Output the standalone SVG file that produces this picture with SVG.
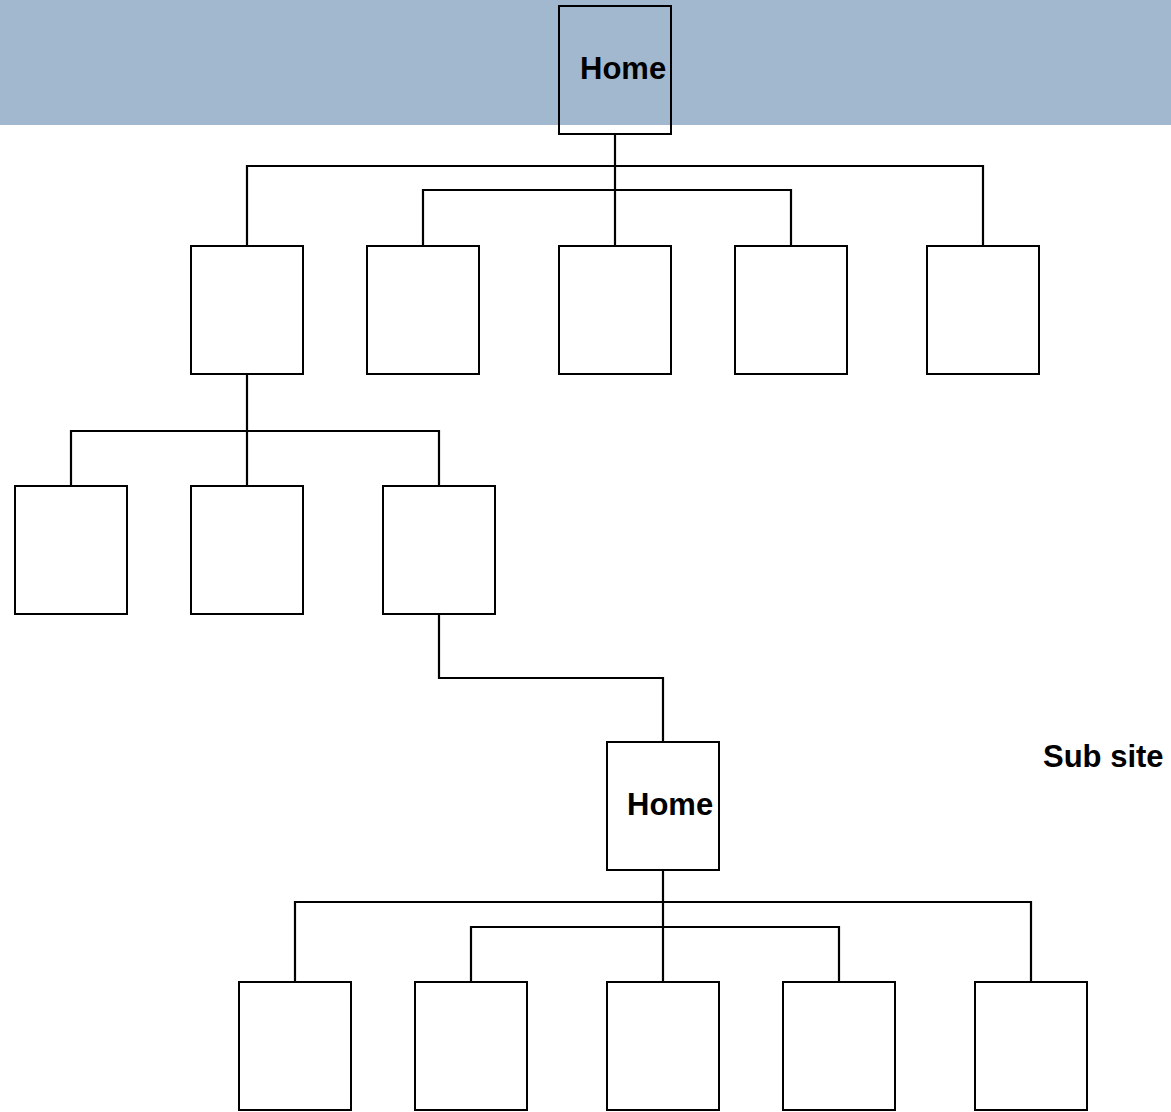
<svg xmlns="http://www.w3.org/2000/svg" width="1171" height="1112" viewBox="0 0 1171 1112">
  <style>
    .box { fill: none; stroke: #000; stroke-width: 2; }
    .wire { fill: none; stroke: #000; stroke-width: 2.2; }
    .label { font-family: "Liberation Sans", Arial, sans-serif; font-weight: bold; font-size: 31px; fill: #000; }
  </style>
  <rect x="0" y="0" width="1171" height="1112" fill="#fff"/>
  <!-- header band -->
  <rect id="banner" x="0" y="0" width="1171" height="125" fill="#a2b8cf"/>

  <g id="connectors">
    <!-- main home to first level -->
    <path class="wire" d="M615 134 V246"/>
    <path class="wire" d="M247 246 V166 H983 V246"/>
    <path class="wire" d="M423 246 V190 H791 V246"/>
    <!-- first level box to second level -->
    <path class="wire" d="M247 374 V486"/>
    <path class="wire" d="M71 486 V431 H439 V486"/>
    <!-- second level to sub site home -->
    <path class="wire" d="M439 614 V678 H663 V742"/>
    <!-- sub site home to its pages -->
    <path class="wire" d="M663 870 V982"/>
    <path class="wire" d="M295 982 V902 H1031 V982"/>
    <path class="wire" d="M471 982 V927 H839 V982"/>
  </g>

  <g id="home">
    <rect class="box" x="559" y="6" width="112" height="128"/>
    <text class="label" x="580" y="79">Home</text>
  </g>

  <g id="page-1-1"><rect class="box" x="191" y="246" width="112" height="128"/></g>
  <g id="page-1-2"><rect class="box" x="367" y="246" width="112" height="128"/></g>
  <g id="page-1-3"><rect class="box" x="559" y="246" width="112" height="128"/></g>
  <g id="page-1-4"><rect class="box" x="735" y="246" width="112" height="128"/></g>
  <g id="page-1-5"><rect class="box" x="927" y="246" width="112" height="128"/></g>

  <g id="page-2-1"><rect class="box" x="15" y="486" width="112" height="128"/></g>
  <g id="page-2-2"><rect class="box" x="191" y="486" width="112" height="128"/></g>
  <g id="page-2-3"><rect class="box" x="383" y="486" width="112" height="128"/></g>

  <g id="sub-home">
    <rect class="box" x="607" y="742" width="112" height="128"/>
    <text class="label" x="627" y="815">Home</text>
  </g>

  <g id="sub-site-label">
    <text class="label" x="1043" y="767">Sub site</text>
  </g>

  <g id="page-3-1"><rect class="box" x="239" y="982" width="112" height="128"/></g>
  <g id="page-3-2"><rect class="box" x="415" y="982" width="112" height="128"/></g>
  <g id="page-3-3"><rect class="box" x="607" y="982" width="112" height="128"/></g>
  <g id="page-3-4"><rect class="box" x="783" y="982" width="112" height="128"/></g>
  <g id="page-3-5"><rect class="box" x="975" y="982" width="112" height="128"/></g>
</svg>
